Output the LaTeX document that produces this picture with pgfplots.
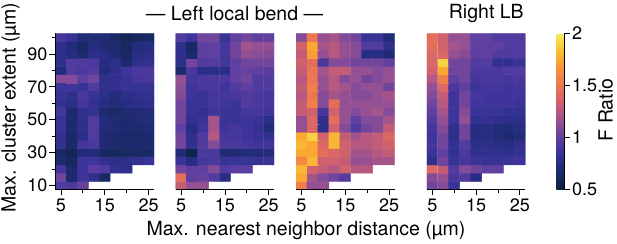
\documentclass[border=0pt]{standalone}
\usepackage{fontspec}
\setmainfont{TeX Gyre Heros}
\usepackage{pgfplots}
\pgfplotsset{compat=1.18}
\pgfplotsset{colormap={thermal}{
rgb255(0cm)=(12,32,58)
rgb255(1.25cm)=(22,40,95)
rgb255(2.5cm)=(38,45,130)
rgb255(3.75cm)=(62,52,155)
rgb255(5cm)=(95,63,160)
rgb255(6.25cm)=(140,78,150)
rgb255(7.5cm)=(182,88,128)
rgb255(8.75cm)=(214,100,104)
rgb255(10cm)=(236,118,82)
rgb255(11.25cm)=(246,140,62)
rgb255(12.5cm)=(250,168,50)
rgb255(13.75cm)=(248,202,56)
rgb255(15cm)=(240,240,100)
}}
\newcommand{\tickfont}{\fontsize{18bp}{21bp}\selectfont}
\newcommand{\labfont}{\fontsize{19.5bp}{23bp}\selectfont}
\pgfplotsset{
 hm/.style={
  scale only axis, width=98.5bp, height=156bp,
  xmin=3.75, xmax=26.25, ymin=7.5, ymax=102.5, enlargelimits=false,
  colormap name=thermal, point meta min=0.5, point meta max=2,
  xtick={5,15,25}, minor xtick={10,20},
  tick align=outside, major tick length=6bp, minor tick length=3.5bp,
  axis x line*=bottom,
  every tick/.style={black, line width=0.8bp},
  every minor tick/.style={black, line width=0.8bp},
  axis line style={line width=0.8bp},
  tick label style={font=\tickfont},
  yticklabel style={inner xsep=2bp},
  /pgf/number format/assume math mode=true,
  axis on top,
  anchor=south west,
 },
 cell/.style={matrix plot*, shader=faceted, faceted color=mapped color, line width=0.45bp, point meta=explicit, mesh/ordering=x varies},
}
\begin{document}
\begin{tikzpicture}
\useasboundingbox (0,0) rectangle (617bp,244bp);
% ---------------- Panel 1
\begin{axis}[hm, at={(55.5bp,54.5bp)}, axis y line*=left,
  ytick={10,30,50,70,90}, minor ytick={20,40,60,80,100}]
\addplot[cell, mesh/cols=3] table[row sep=\\, meta=c]{x y c\\
5 10 0.95\\7.5 10 0.92\\10 10 1.02\\
5 15 1.05\\7.5 15 0.68\\10 15 0.88\\
5 20 0.90\\7.5 20 0.68\\10 20 0.88\\
5 25 0.68\\7.5 25 0.62\\10 25 0.88\\
5 30 0.65\\7.5 30 0.60\\10 30 0.72\\
5 35 0.82\\7.5 35 0.66\\10 35 0.90\\
5 40 0.82\\7.5 40 0.66\\10 40 0.78\\
5 45 0.85\\7.5 45 0.68\\10 45 0.80\\
5 50 0.85\\7.5 50 0.68\\10 50 0.80\\
5 55 0.90\\7.5 55 0.68\\10 55 0.80\\
5 60 0.82\\7.5 60 0.78\\10 60 0.90\\
5 65 0.85\\7.5 65 0.80\\10 65 0.92\\
5 70 0.88\\7.5 70 0.88\\10 70 0.85\\
5 75 1.10\\7.5 75 1.10\\10 75 1.00\\
5 80 0.72\\7.5 80 0.95\\10 80 0.92\\
5 85 0.80\\7.5 85 0.95\\10 85 0.95\\
5 90 0.78\\7.5 90 0.75\\10 90 0.68\\
5 95 0.80\\7.5 95 0.72\\10 95 0.65\\
5 100 0.90\\7.5 100 0.85\\10 100 0.70\\
};
\addplot[cell, mesh/cols=2] table[row sep=\\, meta=c]{x y c\\
12.5 15 0.80\\15 15 0.65\\
12.5 20 0.98\\15 20 0.95\\
12.5 25 0.88\\15 25 0.82\\
12.5 30 0.72\\15 30 0.62\\
12.5 35 0.92\\15 35 0.70\\
12.5 40 0.95\\15 40 0.70\\
12.5 45 0.95\\15 45 0.72\\
12.5 50 0.95\\15 50 0.72\\
12.5 55 0.82\\15 55 0.68\\
12.5 60 0.82\\15 60 0.75\\
12.5 65 0.85\\15 65 0.78\\
12.5 70 0.95\\15 70 0.80\\
12.5 75 1.05\\15 75 0.80\\
12.5 80 0.95\\15 80 0.72\\
12.5 85 0.92\\15 85 0.75\\
12.5 90 0.78\\15 90 0.75\\
12.5 95 0.75\\15 95 0.70\\
12.5 100 0.70\\15 100 0.70\\
};
\addplot[cell, mesh/cols=2] table[row sep=\\, meta=c]{x y c\\
17.5 20 0.82\\20 20 0.80\\
17.5 25 0.78\\20 25 0.78\\
17.5 30 0.62\\20 30 0.64\\
17.5 35 0.68\\20 35 0.66\\
17.5 40 0.68\\20 40 0.66\\
17.5 45 0.70\\20 45 0.68\\
17.5 50 0.70\\20 50 0.68\\
17.5 55 0.65\\20 55 0.70\\
17.5 60 0.72\\20 60 0.75\\
17.5 65 0.72\\20 65 0.78\\
17.5 70 0.82\\20 70 0.85\\
17.5 75 0.80\\20 75 0.85\\
17.5 80 0.80\\20 80 0.88\\
17.5 85 0.78\\20 85 0.68\\
17.5 90 0.70\\20 90 0.65\\
17.5 95 0.70\\20 95 0.62\\
17.5 100 0.65\\20 100 0.60\\
};
\addplot[cell, mesh/cols=2] table[row sep=\\, meta=c]{x y c\\
22.5 25 0.82\\25 25 0.85\\
22.5 30 0.64\\25 30 0.65\\
22.5 35 0.66\\25 35 0.68\\
22.5 40 0.66\\25 40 0.68\\
22.5 45 0.68\\25 45 0.70\\
22.5 50 0.70\\25 50 0.72\\
22.5 55 0.70\\25 55 0.72\\
22.5 60 0.78\\25 60 0.80\\
22.5 65 0.80\\25 65 0.82\\
22.5 70 0.85\\25 70 0.85\\
22.5 75 0.90\\25 75 0.92\\
22.5 80 0.92\\25 80 0.92\\
22.5 85 0.80\\25 85 0.82\\
22.5 90 0.75\\25 90 0.78\\
22.5 95 0.72\\25 95 0.75\\
22.5 100 0.62\\25 100 0.65\\
};
\end{axis}
% ---------------- Panel 2
\begin{axis}[hm, at={(175.7bp,54.5bp)}, axis y line=none, ytick=\empty]
\addplot[cell, mesh/cols=3] table[row sep=\\, meta=c]{x y c\\
5 10 1.30\\7.5 10 1.15\\10 10 1.15\\
5 15 1.45\\7.5 15 1.00\\10 15 1.02\\
5 20 1.05\\7.5 20 1.00\\10 20 1.00\\
5 25 0.85\\7.5 25 0.75\\10 25 0.90\\
5 30 0.70\\7.5 30 0.55\\10 30 0.92\\
5 35 1.05\\7.5 35 0.82\\10 35 0.95\\
5 40 1.05\\7.5 40 0.80\\10 40 0.95\\
5 45 1.00\\7.5 45 0.75\\10 45 0.88\\
5 50 1.05\\7.5 50 0.82\\10 50 0.85\\
5 55 1.05\\7.5 55 0.85\\10 55 0.82\\
5 60 1.05\\7.5 60 0.85\\10 60 0.85\\
5 65 1.10\\7.5 65 0.88\\10 65 0.85\\
5 70 1.12\\7.5 70 0.88\\10 70 0.92\\
5 75 1.15\\7.5 75 0.90\\10 75 0.92\\
5 80 0.68\\7.5 80 0.92\\10 80 0.78\\
5 85 0.78\\7.5 85 1.05\\10 85 0.95\\
5 90 0.80\\7.5 90 0.68\\10 90 1.00\\
5 95 0.80\\7.5 95 0.65\\10 95 1.00\\
5 100 0.95\\7.5 100 0.88\\10 100 1.05\\
};
\addplot[cell, mesh/cols=2] table[row sep=\\, meta=c]{x y c\\
12.5 15 0.95\\15 15 0.75\\
12.5 20 1.10\\15 20 0.95\\
12.5 25 0.92\\15 25 0.85\\
12.5 30 0.92\\15 30 0.70\\
12.5 35 1.10\\15 35 0.92\\
12.5 40 1.25\\15 40 0.90\\
12.5 45 1.20\\15 45 0.88\\
12.5 50 1.20\\15 50 0.85\\
12.5 55 0.88\\15 55 0.85\\
12.5 60 0.90\\15 60 0.88\\
12.5 65 0.90\\15 65 0.90\\
12.5 70 0.92\\15 70 0.88\\
12.5 75 0.92\\15 75 0.92\\
12.5 80 0.78\\15 80 0.78\\
12.5 85 0.95\\15 85 0.90\\
12.5 90 1.00\\15 90 0.90\\
12.5 95 1.00\\15 95 0.90\\
12.5 100 1.05\\15 100 0.85\\
};
\addplot[cell, mesh/cols=2] table[row sep=\\, meta=c]{x y c\\
17.5 20 0.98\\20 20 0.98\\
17.5 25 0.85\\20 25 0.85\\
17.5 30 0.70\\20 30 0.72\\
17.5 35 0.92\\20 35 0.90\\
17.5 40 0.90\\20 40 0.88\\
17.5 45 0.90\\20 45 0.88\\
17.5 50 0.85\\20 50 0.88\\
17.5 55 0.85\\20 55 0.90\\
17.5 60 0.85\\20 60 0.95\\
17.5 65 0.92\\20 65 0.95\\
17.5 70 0.95\\20 70 1.00\\
17.5 75 1.00\\20 75 1.05\\
17.5 80 1.00\\20 80 1.02\\
17.5 85 1.00\\20 85 1.05\\
17.5 90 1.05\\20 90 1.15\\
17.5 95 1.05\\20 95 1.20\\
17.5 100 1.00\\20 100 1.05\\
};
\addplot[cell, mesh/cols=2] table[row sep=\\, meta=c]{x y c\\
22.5 25 0.85\\25 25 0.85\\
22.5 30 0.72\\25 30 0.72\\
22.5 35 0.88\\25 35 0.88\\
22.5 40 0.85\\25 40 0.82\\
22.5 45 0.82\\25 45 0.72\\
22.5 50 0.85\\25 50 0.78\\
22.5 55 0.90\\25 55 0.88\\
22.5 60 0.92\\25 60 0.90\\
22.5 65 0.92\\25 65 0.90\\
22.5 70 0.95\\25 70 0.95\\
22.5 75 0.95\\25 75 0.95\\
22.5 80 1.00\\25 80 0.98\\
22.5 85 1.05\\25 85 1.05\\
22.5 90 1.12\\25 90 1.10\\
22.5 95 1.15\\25 95 1.15\\
22.5 100 1.00\\25 100 1.00\\
};
\end{axis}
% ---------------- Panel 3
\begin{axis}[hm, at={(296bp,54.5bp)}, axis y line=none, ytick=\empty]
\addplot[cell, mesh/cols=3] table[row sep=\\, meta=c]{x y c\\
5 10 1.55\\7.5 10 1.15\\10 10 1.15\\
5 15 1.75\\7.5 15 1.20\\10 15 1.10\\
5 20 1.80\\7.5 20 1.35\\10 20 1.30\\
5 25 1.60\\7.5 25 1.80\\10 25 1.35\\
5 30 1.75\\7.5 30 1.75\\10 30 1.45\\
5 35 1.80\\7.5 35 1.75\\10 35 1.40\\
5 40 1.75\\7.5 40 1.90\\10 40 1.35\\
5 45 1.15\\7.5 45 1.40\\10 45 0.80\\
5 50 1.15\\7.5 50 1.40\\10 50 0.80\\
5 55 1.30\\7.5 55 1.35\\10 55 0.90\\
5 60 1.30\\7.5 60 1.55\\10 60 1.10\\
5 65 1.25\\7.5 65 1.50\\10 65 1.10\\
5 70 1.30\\7.5 70 1.55\\10 70 1.15\\
5 75 1.25\\7.5 75 1.50\\10 75 1.15\\
5 80 1.30\\7.5 80 1.50\\10 80 1.20\\
5 85 1.35\\7.5 85 1.45\\10 85 0.92\\
5 90 1.30\\7.5 90 1.70\\10 90 1.15\\
5 95 1.35\\7.5 95 1.75\\10 95 1.20\\
5 100 1.10\\7.5 100 1.50\\10 100 1.15\\
};
\addplot[cell, mesh/cols=2] table[row sep=\\, meta=c]{x y c\\
12.5 15 1.05\\15 15 0.95\\
12.5 20 1.25\\15 20 1.35\\
12.5 25 1.35\\15 25 1.30\\
12.5 30 1.40\\15 30 1.35\\
12.5 35 1.80\\15 35 1.35\\
12.5 40 1.80\\15 40 1.30\\
12.5 45 1.35\\15 45 1.10\\
12.5 50 1.45\\15 50 1.15\\
12.5 55 1.35\\15 55 1.15\\
12.5 60 1.45\\15 60 1.15\\
12.5 65 1.20\\15 65 1.15\\
12.5 70 1.25\\15 70 1.20\\
12.5 75 1.25\\15 75 1.10\\
12.5 80 1.30\\15 80 1.30\\
12.5 85 1.10\\15 85 1.10\\
12.5 90 1.25\\15 90 1.15\\
12.5 95 1.25\\15 95 1.15\\
12.5 100 1.20\\15 100 1.10\\
};
\addplot[cell, mesh/cols=2] table[row sep=\\, meta=c]{x y c\\
17.5 20 1.25\\20 20 1.25\\
17.5 25 1.15\\20 25 1.15\\
17.5 30 1.20\\20 30 1.20\\
17.5 35 1.25\\20 35 1.25\\
17.5 40 1.20\\20 40 1.25\\
17.5 45 0.95\\20 45 1.05\\
17.5 50 1.00\\20 50 1.10\\
17.5 55 1.10\\20 55 1.15\\
17.5 60 1.15\\20 60 1.15\\
17.5 65 1.10\\20 65 1.10\\
17.5 70 1.10\\20 70 1.15\\
17.5 75 1.15\\20 75 1.05\\
17.5 80 1.15\\20 80 1.15\\
17.5 85 1.05\\20 85 1.05\\
17.5 90 1.10\\20 90 0.75\\
17.5 95 1.10\\20 95 0.95\\
17.5 100 1.05\\20 100 0.85\\
};
\addplot[cell, mesh/cols=2] table[row sep=\\, meta=c]{x y c\\
22.5 25 1.20\\25 25 1.20\\
22.5 30 1.25\\25 30 1.30\\
22.5 35 1.30\\25 35 1.35\\
22.5 40 1.30\\25 40 1.40\\
22.5 45 1.10\\25 45 1.30\\
22.5 50 1.10\\25 50 1.20\\
22.5 55 1.20\\25 55 1.10\\
22.5 60 1.15\\25 60 1.15\\
22.5 65 1.15\\25 65 1.20\\
22.5 70 1.15\\25 70 1.05\\
22.5 75 1.10\\25 75 1.15\\
22.5 80 1.10\\25 80 1.15\\
22.5 85 1.05\\25 85 1.00\\
22.5 90 0.75\\25 90 0.70\\
22.5 95 0.95\\25 95 0.80\\
22.5 100 0.85\\25 100 0.72\\
};
\end{axis}
% ---------------- Panel 4 (with colorbar)
\begin{axis}[hm, at={(426.8bp,54.5bp)}, axis y line=none, ytick=\empty,
  colorbar,
  colorbar style={
    at={(parent axis.north east)}, anchor=north west, xshift=22.5bp,
    scale only axis, width=8.5bp,
    ytick={0.5,1,1.5,2}, yticklabels={0.5,1,1.5,2},
    tick align=outside, major tick length=5bp,
    axis x line=none, axis y line*=right,
    every tick/.style={black, line width=0.8bp},
    axis line style={line width=0.8bp},
    yticklabel style={font=\tickfont, inner xsep=2bp},
    /pgf/number format/assume math mode=true,
  }]
\addplot[cell, mesh/cols=3] table[row sep=\\, meta=c]{x y c\\
5 10 1.05\\7.5 10 1.10\\10 10 0.85\\
5 15 1.10\\7.5 15 1.15\\10 15 0.92\\
5 20 1.40\\7.5 20 1.30\\10 20 0.95\\
5 25 0.80\\7.5 25 1.05\\10 25 0.85\\
5 30 0.85\\7.5 30 1.00\\10 30 0.82\\
5 35 0.90\\7.5 35 1.05\\10 35 0.82\\
5 40 0.88\\7.5 40 1.05\\10 40 0.78\\
5 45 0.90\\7.5 45 1.10\\10 45 0.80\\
5 50 0.95\\7.5 50 1.15\\10 50 0.88\\
5 55 1.00\\7.5 55 1.20\\10 55 0.88\\
5 60 1.05\\7.5 60 1.25\\10 60 0.88\\
5 65 1.10\\7.5 65 1.30\\10 65 0.88\\
5 70 1.15\\7.5 70 1.40\\10 70 0.92\\
5 75 1.25\\7.5 75 1.55\\10 75 1.00\\
5 80 1.35\\7.5 80 1.75\\10 80 1.05\\
5 85 1.40\\7.5 85 1.90\\10 85 1.05\\
5 90 1.40\\7.5 90 1.40\\10 90 1.15\\
5 95 1.45\\7.5 95 1.35\\10 95 1.20\\
5 100 1.45\\7.5 100 1.35\\10 100 1.15\\
};
\addplot[cell, mesh/cols=2] table[row sep=\\, meta=c]{x y c\\
12.5 15 0.95\\15 15 0.75\\
12.5 20 1.10\\15 20 1.05\\
12.5 25 0.90\\15 25 0.85\\
12.5 30 0.92\\15 30 0.80\\
12.5 35 0.95\\15 35 0.78\\
12.5 40 1.05\\15 40 0.75\\
12.5 45 1.05\\15 45 0.75\\
12.5 50 1.15\\15 50 0.82\\
12.5 55 1.10\\15 55 0.85\\
12.5 60 1.05\\15 60 0.88\\
12.5 65 1.05\\15 65 0.90\\
12.5 70 1.00\\15 70 0.85\\
12.5 75 1.05\\15 75 0.90\\
12.5 80 1.05\\15 80 0.92\\
12.5 85 1.05\\15 85 0.95\\
12.5 90 1.10\\15 90 1.00\\
12.5 95 1.15\\15 95 1.00\\
12.5 100 1.15\\15 100 1.00\\
};
\addplot[cell, mesh/cols=2] table[row sep=\\, meta=c]{x y c\\
17.5 20 1.00\\20 20 1.00\\
17.5 25 0.85\\20 25 0.85\\
17.5 30 0.80\\20 30 0.80\\
17.5 35 0.78\\20 35 0.75\\
17.5 40 0.75\\20 40 0.72\\
17.5 45 0.75\\20 45 0.72\\
17.5 50 0.82\\20 50 0.80\\
17.5 55 0.85\\20 55 0.85\\
17.5 60 0.88\\20 60 0.88\\
17.5 65 0.88\\20 65 0.88\\
17.5 70 0.90\\20 70 0.90\\
17.5 75 0.92\\20 75 0.92\\
17.5 80 0.92\\20 80 0.92\\
17.5 85 0.95\\20 85 0.82\\
17.5 90 1.00\\20 90 0.95\\
17.5 95 1.00\\20 95 1.00\\
17.5 100 1.00\\20 100 0.95\\
};
\addplot[cell, mesh/cols=2] table[row sep=\\, meta=c]{x y c\\
22.5 25 0.85\\25 25 0.88\\
22.5 30 0.80\\25 30 0.82\\
22.5 35 0.75\\25 35 0.80\\
22.5 40 0.68\\25 40 0.72\\
22.5 45 0.72\\25 45 0.75\\
22.5 50 0.78\\25 50 0.78\\
22.5 55 0.82\\25 55 0.82\\
22.5 60 0.88\\25 60 0.85\\
22.5 65 0.88\\25 65 0.88\\
22.5 70 0.88\\25 70 0.90\\
22.5 75 0.90\\25 75 0.92\\
22.5 80 0.95\\25 80 0.95\\
22.5 85 0.82\\25 85 0.85\\
22.5 90 0.95\\25 90 0.95\\
22.5 95 0.95\\25 95 0.95\\
22.5 100 0.95\\25 100 0.95\\
};
\end{axis}
% ---------------- Labels
\node[font=\labfont, anchor=base] at (234.5bp,223.3bp) {— Left local bend —};
\node[font=\labfont, anchor=base] at (486.3bp,225.5bp) {Right LB};
\node[font=\labfont, anchor=base] at (306bp,8.5bp) {Max. nearest neighbor distance (µm)};
\node[font=\labfont, anchor=base, rotate=90] at (15.5bp,136.5bp) {Max. cluster extent (µm)};
\node[font=\labfont, anchor=base, rotate=90] at (612.5bp,134bp) {F Ratio};
\end{tikzpicture}
\end{document}
